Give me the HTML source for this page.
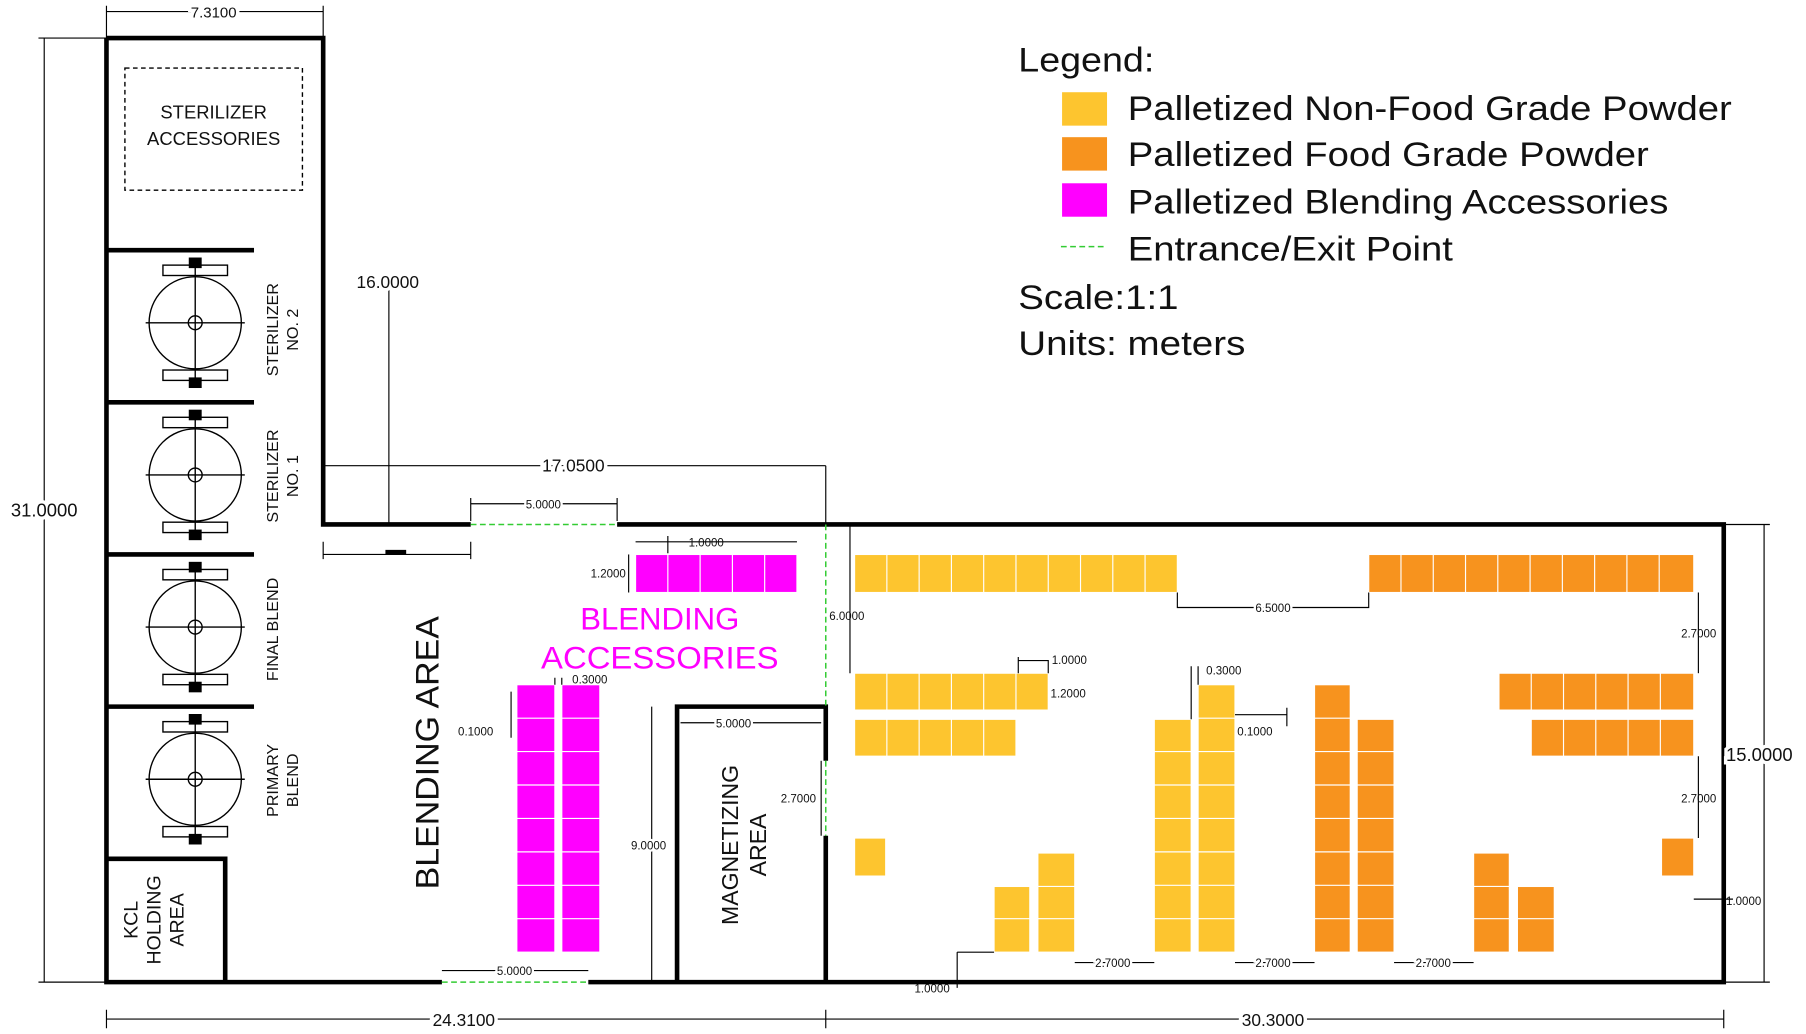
<!DOCTYPE html>
<html><head><meta charset="utf-8"><style>
html,body{margin:0;padding:0;background:#fff}
svg{display:block}
text{font-family:"Liberation Sans",Arial,sans-serif;fill:#111}
</style></head><body>
<svg width="1806" height="1034" viewBox="0 0 1566 897" xmlns="http://www.w3.org/2000/svg">
<g stroke="#000" stroke-width="4" fill="none">
<path d="M92 33H280V455H408M535 455H1495V852H510M383 852H92V33"/>
<path d="M92 217H220M92 349H220M92 481H220M92 613H220"/>
<path d="M92 745H195V852"/>
<path d="M587 852V613H716V660M716 725V852"/>
</g>
<g stroke="#3c3" stroke-width="1.3" stroke-dasharray="5,3" fill="none">
<path d="M408 455H535M383 852H510M716 455V612M716 660V725"/>
</g>
<path d="M920 214H960" stroke="#3c3" stroke-width="1.3" stroke-dasharray="5,3"/>
<rect x="108" y="59" width="154" height="106" fill="none" stroke="#000" stroke-width="1.2" stroke-dasharray="4,3"/>
<text x="185" y="103" font-size="16" text-anchor="middle">STERILIZER</text>
<text x="185" y="126" font-size="16" text-anchor="middle">ACCESSORIES</text>
<g stroke="#000" stroke-width="1.2" fill="none">
<g id="m1">
<circle cx="169" cy="280" r="40"/><circle cx="169" cy="280" r="6"/>
<path d="M126 280H212M169 225V336"/>
<rect x="141" y="230" width="56" height="9"/><rect x="141" y="321" width="56" height="9"/>
<rect x="164" y="224" width="10" height="8" fill="#000"/><rect x="164" y="328" width="10" height="8" fill="#000"/>
</g>
<use href="#m1" y="132"/><use href="#m1" y="264"/><use href="#m1" y="396"/>
</g>
<g font-size="14">
<text transform="translate(241,286) rotate(-90)" text-anchor="middle">STERILIZER</text>
<text transform="translate(258,286) rotate(-90)" text-anchor="middle">NO. 2</text>
<text transform="translate(241,413) rotate(-90)" text-anchor="middle">STERILIZER</text>
<text transform="translate(258,413) rotate(-90)" text-anchor="middle">NO. 1</text>
<text transform="translate(241,546) rotate(-90)" text-anchor="middle">FINAL BLEND</text>
<text transform="translate(241,677) rotate(-90)" text-anchor="middle">PRIMARY</text>
<text transform="translate(258,677) rotate(-90)" text-anchor="middle">BLEND</text>
</g>
<g font-size="17">
<text transform="translate(119,798) rotate(-90)" text-anchor="middle">KCL</text>
<text transform="translate(139,798) rotate(-90)" text-anchor="middle">HOLDING</text>
<text transform="translate(159,798) rotate(-90)" text-anchor="middle">AREA</text>
</g>
<text transform="translate(380,653) rotate(-90)" text-anchor="middle" font-size="28" textLength="237" lengthAdjust="spacingAndGlyphs">BLENDING AREA</text>
<text transform="translate(640,733) rotate(-90)" text-anchor="middle" font-size="20">MAGNETIZING</text>
<text transform="translate(664,733) rotate(-90)" text-anchor="middle" font-size="20">AREA</text>
<text x="572" y="546" font-size="27" text-anchor="middle" style="fill:#f0f">BLENDING</text>
<text x="572" y="580" font-size="27" text-anchor="middle" style="fill:#f0f" textLength="206" lengthAdjust="spacingAndGlyphs">ACCESSORIES</text>
<g stroke="#fff" stroke-width="1">
<g fill="#FF00FF">
<rect x="551" y="481" width="140" height="33"/>
<rect x="448" y="594" width="33" height="232"/><rect x="487" y="594" width="33" height="232"/>
</g>
<g fill="#FDC52F">
<rect x="741" y="481" width="280" height="33"/>
<rect x="741" y="584" width="168" height="32"/>
<rect x="741" y="624" width="140" height="32"/>
<rect x="741" y="727" width="27" height="33"/>
<rect x="862" y="769" width="31" height="57"/><rect x="900" y="740" width="32" height="86"/>
<rect x="1001" y="624" width="32" height="202"/><rect x="1039" y="594" width="32" height="232"/>
</g>
<g fill="#F7931E">
<rect x="1187" y="481" width="282" height="33"/>
<rect x="1300" y="584" width="169" height="32"/>
<rect x="1328" y="624" width="141" height="32"/>
<rect x="1441" y="727" width="28" height="33"/>
<rect x="1140" y="594" width="31" height="232"/><rect x="1177" y="624" width="32" height="202"/>
<rect x="1278" y="740" width="31" height="86"/><rect x="1316" y="769" width="32" height="57"/>
</g>
<g fill="none">
<path d="M579 481V514M607 481V514M635 481V514M663 481V514"/>
<path d="M769 481V514M797 481V514M825 481V514M853 481V514M881 481V514M909 481V514M937 481V514M965 481V514M993 481V514"/>
<path d="M1215 481V514M1243 481V514M1271 481V514M1299 481V514M1327 481V514M1355 481V514M1383 481V514M1411 481V514M1439 481V514"/>
<path d="M769 584V656M797 584V656M825 584V656M853 584V656M881 584V616"/>
<path d="M1328 584V616M1356 584V656M1384 584V656M1412 584V656M1440 584V656"/>
<path d="M448 623H520M448 652H520M448 681H520M448 710H520M448 739H520M448 768H520M448 797H520"/>
<path d="M1039 623H1071M1039 652H1071M1001 652H1033M1001 681H1071M1001 710H1071M1001 739H1071M1001 768H1071M1001 797H1071"/>
<path d="M1140 623H1171M1140 652H1209M1140 681H1209M1140 710H1209M1140 739H1209M1140 768H1209M1140 797H1209"/>
<path d="M862 797H893M900 769H932M900 797H932M1278 769H1309M1278 797H1309M1316 797H1348"/>
</g>
</g>
<g stroke="#000" stroke-width="1" fill="none">
<path d="M92 10H280M92 5V33M280 5V33"/>
<path d="M38 33V852M33 33H92M33 852H92"/>
<path d="M337 245V455"/>
<path d="M280 404H716M280 404V455M716 404V455"/>
<path d="M280 481H408M280 470V485M408 470V485"/>
<path d="M334 479H352" stroke-width="4"/>
<path d="M408 437H535M408 432V452M535 432V452"/>
<path d="M551 470H691M579 465V480"/>
<path d="M545 481V514"/>
<path d="M737 455V584"/>
<path d="M1021 514V527H1187V514"/>
<path d="M1473 514V584"/>
<path d="M1473 656V727M1469 780H1503"/>
<path d="M1530 455V852M1495 455H1535M1495 852H1535"/>
<path d="M92 884H1495M92 876V892M716 876V892M1495 876V892"/>
<path d="M565 613V852"/>
<path d="M590 627H712"/>
<path d="M712 660V725"/>
<path d="M883 573H909V584M883 570V584"/>
<path d="M1033 578V624M1039 578V594"/>
<path d="M1071 620H1116M1116 614V630"/>
<path d="M443 600V640"/>
<path d="M481 588V594M487 588V594"/>
<path d="M932 835H1001M1071 835H1140M1209 835H1278"/>
<path d="M830 826V857M830 826H862"/>
<path d="M383 842H510"/>
</g>
<g font-size="13">
<text x="185" y="15" text-anchor="middle" style="paint-order:stroke" stroke="#fff" stroke-width="6">7.3100</text>
<text x="38" y="448" text-anchor="middle" font-size="16" stroke="#fff" stroke-width="6" style="paint-order:stroke">31.0000</text>
<text x="336" y="250" text-anchor="middle" font-size="15" stroke="#fff" stroke-width="6" style="paint-order:stroke">16.0000</text>
<text x="497" y="409" text-anchor="middle" font-size="15" stroke="#fff" stroke-width="6" style="paint-order:stroke">17.0500</text>
<text x="471" y="441" text-anchor="middle" font-size="10" stroke="#fff" stroke-width="4" style="paint-order:stroke">5.0000</text>
<text x="597" y="474" font-size="10">1.0000</text>
<text x="512" y="501" font-size="10">1.2000</text>
<text x="719" y="538" font-size="10">6.0000</text>
<text x="1104" y="531" text-anchor="middle" font-size="10" stroke="#fff" stroke-width="4" style="paint-order:stroke">6.5000</text>
<text x="1458" y="553" font-size="10">2.7000</text>
<text x="912" y="576" font-size="10">1.0000</text>
<text x="911" y="605" font-size="10">1.2000</text>
<text x="1046" y="585" font-size="10">0.3000</text>
<text x="1073" y="638" font-size="10">0.1000</text>
<text x="496" y="593" font-size="10">0.3000</text>
<text x="397" y="638" font-size="10">0.1000</text>
<text x="636" y="631" text-anchor="middle" font-size="10" stroke="#fff" stroke-width="4" style="paint-order:stroke">5.0000</text>
<text x="677" y="696" font-size="10">2.7000</text>
<text x="547" y="737" font-size="10" stroke="#fff" stroke-width="4" style="paint-order:stroke">9.0000</text>
<text x="1458" y="696" font-size="10">2.7000</text>
<text x="1497" y="785" font-size="10">1.0000</text>
<text x="1497" y="660" font-size="16" stroke="#fff" stroke-width="6" style="paint-order:stroke">15.0000</text>
<text x="965" y="839" text-anchor="middle" font-size="10" stroke="#fff" stroke-width="4" style="paint-order:stroke">2.7000</text>
<text x="1104" y="839" text-anchor="middle" font-size="10" stroke="#fff" stroke-width="4" style="paint-order:stroke">2.7000</text>
<text x="1243" y="839" text-anchor="middle" font-size="10" stroke="#fff" stroke-width="4" style="paint-order:stroke">2.7000</text>
<text x="793" y="861" font-size="10">1.0000</text>
<text x="446" y="846" text-anchor="middle" font-size="10" stroke="#fff" stroke-width="4" style="paint-order:stroke">5.0000</text>
<text x="402" y="890" text-anchor="middle" font-size="15" stroke="#fff" stroke-width="6" style="paint-order:stroke">24.3100</text>
<text x="1104" y="890" text-anchor="middle" font-size="15" stroke="#fff" stroke-width="6" style="paint-order:stroke">30.3000</text>
</g>
<g font-size="30">
<text x="883" y="62" textLength="118" lengthAdjust="spacingAndGlyphs">Legend:</text>
<rect x="921" y="80" width="39" height="29" fill="#FDC52F"/>
<rect x="921" y="119" width="39" height="29" fill="#F7931E"/>
<rect x="921" y="159" width="39" height="29" fill="#FF00FF"/>
<text x="978" y="104" textLength="524" lengthAdjust="spacingAndGlyphs">Palletized Non-Food Grade Powder</text>
<text x="978" y="144" textLength="452" lengthAdjust="spacingAndGlyphs">Palletized Food Grade Powder</text>
<text x="978" y="185" textLength="469" lengthAdjust="spacingAndGlyphs">Palletized Blending Accessories</text>
<text x="978" y="226" textLength="282" lengthAdjust="spacingAndGlyphs">Entrance/Exit Point</text>
<text x="883" y="268" textLength="139" lengthAdjust="spacingAndGlyphs">Scale:1:1</text>
<text x="883" y="308" textLength="197" lengthAdjust="spacingAndGlyphs">Units: meters</text>
</g>
</svg>
</body></html>
